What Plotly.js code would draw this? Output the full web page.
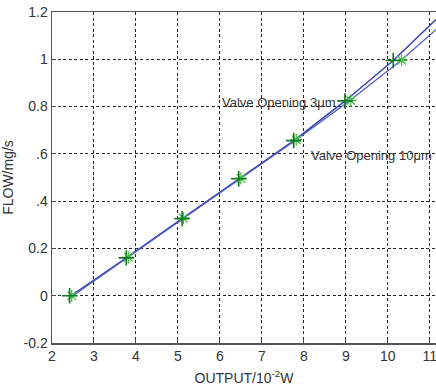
<!DOCTYPE html>
<html>
<head>
<meta charset="utf-8">
<script src="https://cdn.plot.ly/plotly-3.0.1.min.js"></script>
<style>html,body{margin:0;padding:0;background:#fff;}#chart{width:436px;height:392px;}</style>
</head>
<body>
<div id="chart"></div>
<script>
// Measured points
const pts3x = [2.42, 3.77, 5.10, 6.45, 7.76, 8.98, 10.13];
const pts3y = [0.000, 0.160, 0.326, 0.495, 0.656, 0.824, 0.995];
const pts10x = [2.47, 3.82, 5.13, 6.50, 7.82, 9.12, 10.33];
const pts10y = [0.000, 0.162, 0.328, 0.497, 0.660, 0.826, 0.996];
// Fitted curves
const fit3x = [2.45, 3.77, 5.10, 6.46, 7.78, 9.00, 10.13, 11.15];
const fit3y = [0.000, 0.160, 0.326, 0.495, 0.658, 0.826, 0.995, 1.168];
const fit10x = [2.50, 3.80, 5.12, 6.50, 7.82, 9.10, 10.32, 11.15];
const fit10y = [0.000, 0.162, 0.328, 0.497, 0.660, 0.826, 0.996, 1.125];
const yTickVals = [-0.2, 0, 0.2, 0.4, 0.6, 0.8, 1, 1.2];
const yTickText = ['-0.2', '0', '0.2', '.4', '.6', '0.8', '1', '1.2'];
const xTickVals = [2, 3, 4, 5, 6, 7, 8, 9, 10, 11];
const label3 = 'Valve Opening 3μm';
const label10 = 'Valve Opening 10μm';

const FONT = 'Liberation Sans, Arial, sans-serif';
const traces = [
  {x: fit3x, y: fit3y, mode: 'lines', line: {color: '#2f3db0', width: 1.4}, hoverinfo: 'skip'},
  {x: fit10x, y: fit10y, mode: 'lines', line: {color: '#4f5cc4', width: 1.2}, hoverinfo: 'skip'},
  {x: pts10x, y: pts10y, mode: 'markers', marker: {symbol: 'asterisk-open', size: 10, color: '#44c044', line: {width: 1.3, color: '#44c044'}}},
  {x: pts3x, y: pts3y, mode: 'markers', marker: {symbol: 'cross-thin-open', size: 11, color: '#0d7a1a', line: {width: 1.6, color: '#0d7a1a'}}}
];
const gridCommon = {showgrid: true, gridcolor: '#222', griddash: '3px,2.5px', gridwidth: 1,
  zeroline: false, showline: true, linecolor: '#555', linewidth: 1.5,
  ticks: 'inside', ticklen: 4, tickcolor: '#444', ticklabeloverflow: 'allow',
  tickfont: {family: FONT, size: 14, color: '#333'}};
const layout = {
  width: 436, height: 392,
  margin: {l: 52, r: 0, t: 12, b: 49},
  paper_bgcolor: '#fff', plot_bgcolor: '#fff',
  showlegend: false,
  xaxis: Object.assign({}, gridCommon, {range: [2, 11.15], tickvals: xTickVals, mirror: true,
    title: {text: 'OUTPUT/10<sup>-2</sup>W', font: {family: FONT, size: 14, color: '#333'}, standoff: 10}}),
  yaxis: Object.assign({}, gridCommon, {range: [-0.2, 1.2], tickvals: yTickVals, ticktext: yTickText,
    title: {text: 'FLOW/mg/s', font: {family: FONT, size: 14, color: '#333'}, standoff: 6}}),
  annotations: [
    {x: 6.0, y: 0.818, xref: 'x', yref: 'y', text: label3, showarrow: false, xanchor: 'left', yanchor: 'middle',
     font: {family: FONT, size: 13, color: '#333'}},
    {x: 8.12, y: 0.595, xref: 'x', yref: 'y', text: label10, showarrow: false, xanchor: 'left', yanchor: 'middle',
     font: {family: FONT, size: 13, color: '#333'}}
  ]
};
Plotly.newPlot('chart', traces, layout, {staticPlot: true, displayModeBar: false});
</script>
</body>
</html>
